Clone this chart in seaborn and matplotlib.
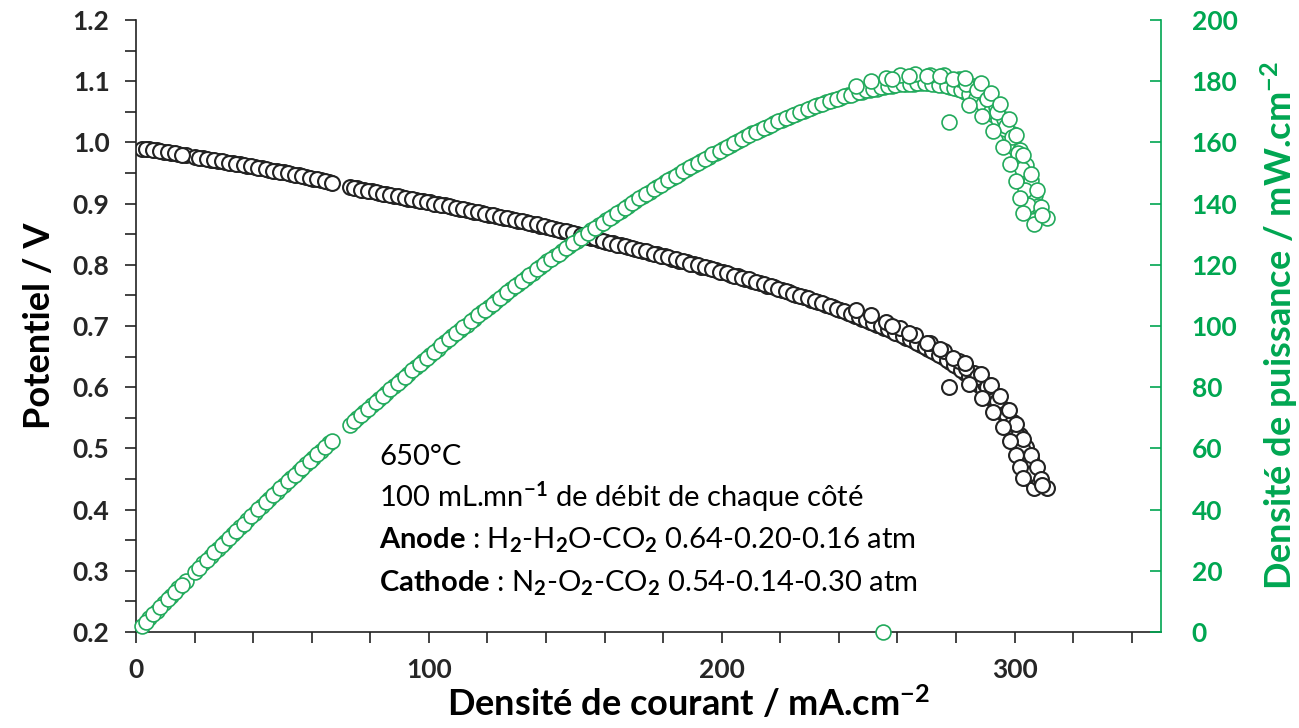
import matplotlib
matplotlib.use("Agg")
import matplotlib.pyplot as plt
import seaborn as sns
import pandas as pd
from matplotlib.ticker import MultipleLocator, FuncFormatter

# current density (mA.cm-2) and cell potential (V)
current = [
    # sweep A
    2.0, 4.5, 7.0, 9.5, 12.0, 14.5, 17.0, 20.0, 23.0, 25.5, 28.0, 30.5, 33.0,
    35.5, 38.0, 40.5, 43.0, 45.5, 48.0, 50.5, 53.0, 55.5, 58.0, 60.5, 63.0, 66.0,
    73.0, 75.5, 78.0, 80.5, 83.0, 85.5, 88.0, 90.5, 93.0, 95.5, 98.0, 100.5,
    103.0, 105.5, 108.0, 110.5, 113.0, 115.5, 118.0, 120.5, 123.0, 125.5, 128.0,
    130.5, 133.0, 135.5, 138.0, 140.5, 143.0, 145.5, 148.0, 150.5, 153.0, 155.5,
    158.0, 160.5, 163.0, 165.5, 168.0, 170.5, 173.0, 175.5, 178.0, 180.5, 183.0,
    185.5, 188.0, 190.5, 193.0, 195.5, 198.0, 200.5, 203.0, 205.5, 208.0, 210.5,
    213.0, 215.5, 218.0, 220.5, 223.0, 225.5, 228.0, 230.5, 233.0, 235.5, 238.0,
    240.5, 243.0, 245.5, 248.0, 250.5, 253.0, 255.5, 258.0, 260.5, 263.0, 265.5,
    268.0, 270.5, 273.0, 275.5, 278.0, 280.5, 283.0, 285.5, 288.0, 290.5, 293.0,
    295.5, 298.0, 300.0, 302.0, 303.5, 305.0, 306.0, 306.5, 311.0,
    # sweep B
    3.3, 5.8, 8.3, 10.8, 13.3, 15.8, 21.5, 24.2, 26.8, 29.3, 31.8, 34.3, 36.8,
    39.3, 41.8, 44.3, 46.8, 49.3, 51.8, 54.3, 56.8, 59.3, 61.8, 64.5, 67.0,
    74.3, 76.8, 79.3, 81.8, 84.3, 86.8, 89.3, 91.8, 94.3, 96.8, 99.3, 101.8,
    104.3, 106.8, 109.3, 111.8, 114.3, 116.8, 119.3, 121.8, 124.3, 126.8, 129.3,
    131.8, 134.3, 136.8, 139.3, 141.8, 144.3, 146.8, 149.3, 151.8, 154.3, 156.8,
    159.3, 161.8, 164.3, 166.8, 169.3, 171.8, 174.3, 176.8, 179.3, 181.8, 184.3,
    186.8, 189.3, 191.8, 194.3, 196.8, 199.3, 201.8, 204.3, 206.8, 209.3, 211.8,
    214.3, 216.8, 219.3, 221.8, 224.3, 226.8, 229.3, 231.8, 234.3, 236.8, 239.3,
    241.8, 244.3, 246.8, 249.3, 251.8, 254.3, 256.8, 259.3, 261.8, 264.3, 266.8,
    269.3, 271.8, 274.3, 276.8, 279.3, 281.8, 284.3, 286.8, 289.3, 291.8, 294.3,
    296.8, 299.0, 301.0, 302.8, 304.3, 305.6,
    # sweep C (end of the curve)
    246.0, 251.0, 256.0, 261.0, 266.0, 271.0, 276.0, 281.0, 286.0, 290.0, 293.5,
    296.5, 299.5, 302.0, 304.0, 305.5, 307.0, 308.0,
    # sweep D
    258.0, 264.0, 270.0, 274.5, 279.0, 283.5, 287.0, 290.5, 294.0, 297.0, 299.0,
    301.0, 302.5, 303.5, 304.5,
    # upper / lower edges of the scattered band
    283.0, 288.5, 292.0, 295.0, 298.0, 300.5, 303.0, 305.5, 307.5, 309.0, 309.5,
    284.5, 289.0, 292.5, 296.0, 298.5, 300.5, 302.0, 303.0,
    # stray points
    277.7, 255.0,
]
voltage = [
    # sweep A
    0.990, 0.989, 0.987, 0.985, 0.983, 0.981, 0.979, 0.976, 0.974, 0.972, 0.970,
    0.968, 0.966, 0.964, 0.962, 0.960, 0.958, 0.955, 0.953, 0.951, 0.949, 0.946,
    0.944, 0.941, 0.939, 0.936,
    0.927, 0.925, 0.922, 0.920, 0.918, 0.915, 0.913, 0.911, 0.908, 0.906, 0.904,
    0.902, 0.899, 0.897, 0.895, 0.892, 0.889, 0.887, 0.885, 0.882, 0.880, 0.877,
    0.875, 0.872, 0.870, 0.867, 0.864, 0.862, 0.859, 0.856, 0.853, 0.850, 0.847,
    0.844, 0.841, 0.838, 0.835, 0.832, 0.829, 0.826, 0.823, 0.820, 0.817, 0.814,
    0.810, 0.807, 0.804, 0.801, 0.797, 0.794, 0.791, 0.788, 0.784, 0.781, 0.777,
    0.774, 0.770, 0.766, 0.763, 0.759, 0.755, 0.751, 0.747, 0.743, 0.739, 0.735,
    0.731, 0.726, 0.722, 0.717, 0.712, 0.707, 0.702, 0.697, 0.692, 0.687, 0.681,
    0.675, 0.669, 0.663, 0.656, 0.649, 0.641, 0.633, 0.624, 0.614, 0.603, 0.591,
    0.577, 0.562, 0.545, 0.527, 0.507, 0.488, 0.466, 0.447, 0.435, 0.435,
    # sweep B
    0.989, 0.988, 0.986, 0.984, 0.982, 0.980, 0.975, 0.973, 0.971, 0.969, 0.967,
    0.965, 0.963, 0.961, 0.959, 0.956, 0.954, 0.952, 0.950, 0.947, 0.945, 0.942,
    0.940, 0.937, 0.934,
    0.926, 0.923, 0.921, 0.919, 0.916, 0.914, 0.912, 0.909, 0.907, 0.905, 0.903,
    0.900, 0.898, 0.896, 0.893, 0.891, 0.888, 0.886, 0.883, 0.881, 0.878, 0.876,
    0.874, 0.871, 0.868, 0.866, 0.863, 0.860, 0.857, 0.855, 0.852, 0.848, 0.845,
    0.843, 0.839, 0.836, 0.833, 0.830, 0.828, 0.825, 0.822, 0.818, 0.815, 0.812,
    0.809, 0.806, 0.802, 0.799, 0.796, 0.793, 0.789, 0.786, 0.782, 0.779, 0.776,
    0.772, 0.768, 0.765, 0.761, 0.757, 0.753, 0.749, 0.745, 0.741, 0.737, 0.733,
    0.728, 0.724, 0.719, 0.715, 0.710, 0.705, 0.700, 0.695, 0.689, 0.684, 0.678,
    0.672, 0.666, 0.659, 0.652, 0.645, 0.637, 0.628, 0.619, 0.609, 0.597, 0.584,
    0.570, 0.554, 0.536, 0.517, 0.498, 0.477, 0.456,
    # sweep C
    0.726, 0.718, 0.707, 0.697, 0.685, 0.672, 0.659, 0.643, 0.624, 0.605, 0.585,
    0.565, 0.543, 0.522, 0.502, 0.483, 0.465, 0.452,
    # sweep D
    0.700, 0.688, 0.673, 0.662, 0.648, 0.632, 0.617, 0.600, 0.578, 0.557, 0.541,
    0.520, 0.500, 0.476, 0.458,
    # band edges
    0.640, 0.622, 0.603, 0.585, 0.563, 0.540, 0.515, 0.490, 0.470, 0.450, 0.440,
    0.605, 0.583, 0.560, 0.535, 0.512, 0.490, 0.470, 0.452,
    # stray points
    0.600, 0.0,
]

df = pd.DataFrame({"current": current, "voltage": voltage})
# power density: mA.cm-2 x V = mW.cm-2
df["power"] = df["current"] * df["voltage"]

green = "#00a651"
green_mk = "#22aa5c"
dark = "#222222"

sns.set_theme(style="white")
plt.rcParams["font.family"] = ["Lato", "DejaVu Sans"]
plt.rcParams["font.weight"] = "bold"
plt.rcParams["axes.labelweight"] = "bold"
plt.rcParams["mathtext.fontset"] = "custom"
plt.rcParams["mathtext.rm"] = "Lato"
plt.rcParams["mathtext.bf"] = "Lato:bold"
plt.rcParams["mathtext.it"] = "Lato:italic"

fig = plt.figure(figsize=(12.99, 7.28), dpi=100)
ax = fig.add_axes([0.1047, 0.1319, 0.7891, 0.8406])

sns.scatterplot(data=df, x="current", y="voltage", ax=ax, marker="o", s=115,
                facecolor="white", edgecolor=dark, linewidth=1.5, legend=False)

ax2 = ax.twinx()
sns.scatterplot(data=df, x="current", y="power", ax=ax2, marker="o", s=115,
                facecolor="white", edgecolor=green_mk, linewidth=1.2,
                legend=False, clip_on=False)

ax.set_xlim(0, 350)
ax.set_ylim(0.2, 1.2)
ax2.set_ylim(0, 200)

ax.xaxis.set_major_locator(MultipleLocator(20))
ax.xaxis.set_major_formatter(FuncFormatter(
    lambda v, p: f"{v:.0f}" if round(v) % 100 == 0 else ""))
ax.yaxis.set_major_locator(MultipleLocator(0.05))
ax.yaxis.set_major_formatter(FuncFormatter(
    lambda v, p: f"{v:.1f}" if round(v * 20) % 2 == 0 else ""))
ax2.yaxis.set_major_locator(MultipleLocator(20))

ax.tick_params(axis="x", direction="out", length=8, width=1.2, color=dark,
               labelsize=19, pad=11, bottom=True)
ax.tick_params(axis="y", direction="out", length=8, width=1.2, color=dark,
               labelsize=19, pad=11, left=True)
ax2.tick_params(axis="y", direction="in", length=8, width=1.2, color=green,
                labelsize=19, labelcolor=green, pad=22, right=True)

for a in (ax, ax2):
    a.spines["top"].set_visible(False)
    a.set_xlabel("")
    a.set_ylabel("")
ax.spines["right"].set_visible(False)
ax2.spines["left"].set_visible(False)
ax2.spines["bottom"].set_visible(False)
ax.spines["left"].set_color(dark)
ax.spines["bottom"].set_color(dark)
ax2.spines["right"].set_color(green)
for s in ("left", "bottom"):
    ax.spines[s].set_linewidth(1.2)
ax2.spines["right"].set_linewidth(1.2)

ax.set_xlabel("Densité de courant / mA.cm$^{-2}$", fontsize=26, color="black")
ax.xaxis.set_label_coords(0.5385, -0.116)
ax.xaxis.label.set_va("center")
ax.set_ylabel("Potentiel / V", fontsize=26, color="black")
ax.yaxis.set_label_coords(-0.094, 0.5)
ax.yaxis.label.set_va("center")
ax2.set_ylabel("Densité de puissance / mW.cm$^{-2}$", fontsize=26, color=green)
ax2.yaxis.set_label_coords(1.115, 0.5)
ax2.yaxis.label.set_va("center")

notes = [
    "650°C",
    "100 mL.mn$^{-1}$ de débit de chaque côté",
    r"$\mathbf{Anode}$ : H$_2$-H$_2$O-CO$_2$ 0.64-0.20-0.16 atm",
    r"$\mathbf{Cathode}$ : N$_2$-O$_2$-CO$_2$ 0.54-0.14-0.30 atm",
]
note_y = [0.486, 0.421, 0.350, 0.280]
for txt, yy in zip(notes, note_y):
    ax.text(83, yy, txt, fontsize=21, fontweight="normal", color="black",
            va="center", ha="left", zorder=5)

fig.savefig("out.png", dpi=100)
